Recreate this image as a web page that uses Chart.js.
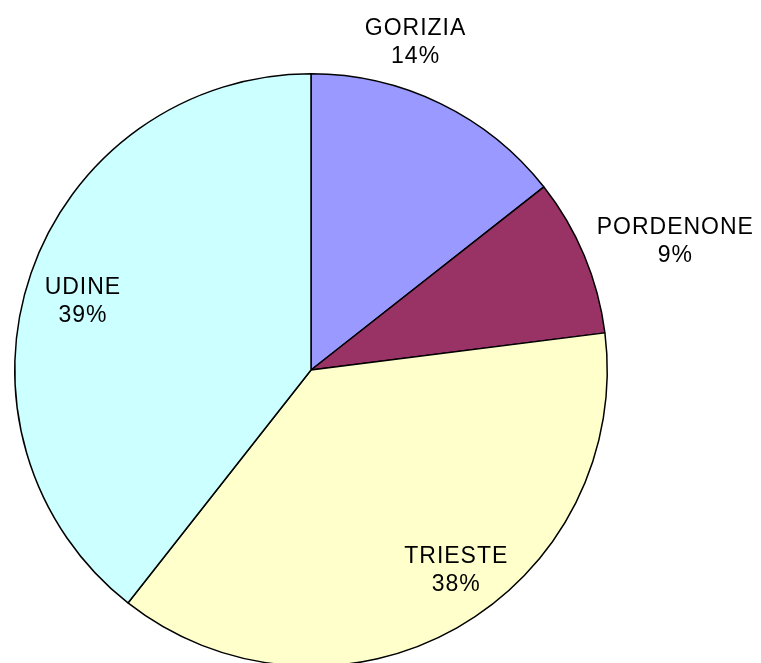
<!DOCTYPE html>
<html>
<head>
<meta charset="utf-8">
<script src="https://cdn.jsdelivr.net/npm/chart.js@4/dist/chart.umd.min.js"></script>
<style>
  html, body { margin: 0; padding: 0; background: #fff; overflow: hidden; }
  #wrap { width: 761px; height: 663px; overflow: hidden; }
</style>
</head>
<body>
<div id="wrap"><canvas id="pieChart" width="761" height="700"></canvas></div>
<script>
// province shares
const provinces = ['GORIZIA', 'PORDENONE', 'TRIESTE', 'UDINE'];
const shares = [14.4, 8.6, 37.6, 39.4];
const shareLabels = ['14%', '9%', '38%', '39%'];
const sliceColors = ['#9999FF', '#993366', '#FFFFCC', '#CCFFFF'];

// where each label sits: angle offset from the slice middle (deg), distance as radius factor
const labelPlace = [
    { off: -8.3, r: 1.166 },
    { off: 3.0, r: 1.306 },
    { off: -6.6, r: 0.832 },
    { off: -2.1, r: 0.805 }
];

const sliceLabels = {
    id: 'sliceLabels',
    afterDatasetsDraw(chart) {
        const ctx = chart.ctx;
        const arcs = chart.getDatasetMeta(0).data;
        ctx.save();
        ctx.font = '23px "Liberation Sans", Arial, sans-serif';
        ctx.letterSpacing = '1px';
        ctx.fillStyle = '#000';
        ctx.textAlign = 'center';
        ctx.textBaseline = 'alphabetic';
        arcs.forEach((arc, i) => {
            const mid = (arc.startAngle + arc.endAngle) / 2 + labelPlace[i].off * Math.PI / 180;
            const dist = arc.outerRadius * labelPlace[i].r;
            const cx = arc.x + Math.cos(mid) * dist;
            const cy = arc.y + Math.sin(mid) * dist;
            ctx.fillText(provinces[i], cx, cy - 6);
            ctx.fillText(shareLabels[i], cx, cy + 22);
        });
        ctx.restore();
    }
};

const ctx = document.getElementById('pieChart').getContext('2d');
const pieChart = new Chart(ctx, {
    type: 'pie',
    data: {
        labels: provinces,
        datasets: [{
            data: shares,
            backgroundColor: sliceColors,
            borderColor: '#000',
            borderWidth: 1.5
        }]
    },
    options: {
        responsive: false,
        animation: false,
        layout: {
            padding: { left: 14, right: 153, top: 73, bottom: 33 }
        },
        plugins: {
            legend: { display: false },
            tooltip: { enabled: false }
        }
    },
    plugins: [sliceLabels]
});
</script>
</body>
</html>
